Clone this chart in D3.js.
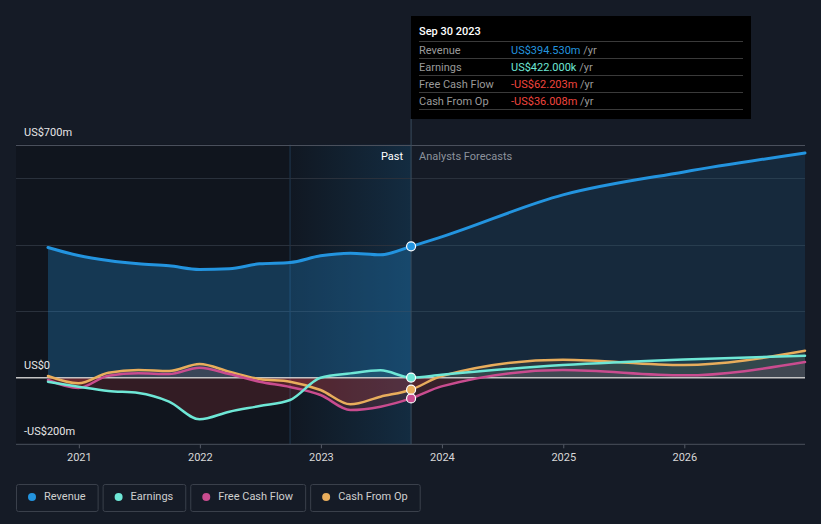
<!DOCTYPE html>
<html>
<head>
<meta charset="utf-8">
<script src="https://cdn.jsdelivr.net/npm/d3@7/dist/d3.min.js"></script>
<style>
  html, body { margin: 0; padding: 0; background: #151b26; }
  svg { display: block; font-family: Roboto, "Noto Sans", sans-serif; }
</style>
</head>
<body>
<svg id="chart" width="821" height="524"></svg>
<script>
// ---------- DATA ----------
const pastDates = ["2020-09-30","2020-12-31","2021-03-31","2021-06-30","2021-09-30","2021-12-31",
  "2022-03-31","2022-06-30","2022-09-30","2022-12-31","2023-03-31","2023-06-30","2023-09-30"];
const forecastDates = ["2023-09-30","2023-12-31","2024-12-31","2025-12-31","2026-12-31"];

const revenuePast = [391, 367, 352, 342, 336, 325, 327, 342, 346, 366, 374, 369, 394.53];
const earningsPast = [-12, -27, -40, -46, -72, -125, -102, -85, -67, 0, 13, 22, 0.422];
const fcfPast = [-7, -31, 6, 13, 11, 30, 11, -12, -28, -52, -97, -87, -62.203];
const cfoPast = [5, -17, 15, 23, 20, 41, 18, -4, -12, -37, -80, -57, -36.008];

const revenueForecast = [394.53, 423, 549, 618, 675];
const earningsForecast = [0.422, 9, 38, 55, 66];
const fcfForecast = [-62.203, -26, 23, 7, 47];
const cfoForecast = [-36.008, 5, 54, 38, 81];

const yTicks = [-200, 0, 200, 400, 600, 700];
const yLabels = [{v: 700, t: "US$700m"}, {v: 0, t: "US$0"}, {v: -200, t: "-US$200m"}];
const xTickYears = [2021, 2022, 2023, 2024, 2025, 2026];

const seriesNames = ["Revenue", "Earnings", "Free Cash Flow", "Cash From Op"];
const seriesColors = ["#2394df", "#6ee7d6", "#c94c8f", "#e8ad5c"];

const tooltipDate = "Sep 30 2023";
const tooltipValues = ["US$394.530m", "US$422.000k", "-US$62.203m", "-US$36.008m"];
const tooltipValueColors = ["#2394df", "#6ee7d6", "#f0453e", "#f0453e"];

// ---------- SETUP ----------
const parse = d3.timeParse("%Y-%m-%d");
const svg = d3.select("#chart");
const W = 821, H = 524;
const plotLeft = 16, plotRight = 805;

const x = d3.scaleTime()
  .domain([parse("2020-09-30"), parse("2026-12-31")])
  .range([48, 805]);
const y = d3.scaleLinear().domain([-200, 700]).range([444.3, 144.6]);

const nowDate = parse("2023-09-30");
const bandStart = parse("2022-09-30");
const xNow = x(nowDate);

const mk = (dates, vals) => dates.map((d, i) => ({date: parse(d), v: vals[i]}));
const series = [
  {past: mk(pastDates, revenuePast), fc: mk(forecastDates, revenueForecast)},
  {past: mk(pastDates, earningsPast), fc: mk(forecastDates, earningsForecast)},
  {past: mk(pastDates, fcfPast), fc: mk(forecastDates, fcfForecast)},
  {past: mk(pastDates, cfoPast), fc: mk(forecastDates, cfoForecast)}
];

const defs = svg.append("defs");
const grad = defs.append("linearGradient").attr("id", "bandGrad")
  .attr("x1", "0").attr("x2", "1").attr("y1", "0").attr("y2", "0");
grad.append("stop").attr("offset", "0").attr("stop-color", "#2394df").attr("stop-opacity", 0.02);
grad.append("stop").attr("offset", "1").attr("stop-color", "#2394df").attr("stop-opacity", 0.18);

defs.append("clipPath").attr("id", "clipPos").append("rect")
  .attr("x", 0).attr("y", 0).attr("width", W).attr("height", y(0));
defs.append("clipPath").attr("id", "clipNeg").append("rect")
  .attr("x", 0).attr("y", y(0)).attr("width", W).attr("height", H - y(0));

// past dark region
svg.append("rect").attr("x", plotLeft).attr("y", y(700))
  .attr("width", xNow - plotLeft).attr("height", y(-200) - y(700))
  .attr("fill", "#000").attr("opacity", 0.2);
// band last year
svg.append("rect").attr("x", x(bandStart)).attr("y", y(700))
  .attr("width", xNow - x(bandStart)).attr("height", y(-200) - y(700))
  .attr("fill", "url(#bandGrad)");
svg.append("line").attr("x1", x(bandStart)).attr("x2", x(bandStart))
  .attr("y1", y(700)).attr("y2", y(-200))
  .attr("stroke", "#1f3a52").attr("stroke-width", 1);

// gridlines
svg.append("g").selectAll("line").data(yTicks.filter(v => v !== 0 && v !== -200)).join("line")
  .attr("x1", plotLeft).attr("x2", plotRight)
  .attr("y1", d => Math.round(y(d)) + 0.5).attr("y2", d => Math.round(y(d)) + 0.5)
  .attr("stroke", d => d === 700 ? "#4a505c" : "#2a313c").attr("stroke-width", 1);

const curve = d3.curveMonotoneX;

// revenue area
const revArea = d3.area().x(d => x(d.date)).y0(y(0)).y1(d => y(d.v)).curve(curve);
svg.append("path").datum(series[0].past).attr("d", revArea)
  .attr("fill", "#2394df").attr("opacity", 0.28);
svg.append("path").datum(series[0].fc).attr("d", revArea)
  .attr("fill", "#2394df").attr("opacity", 0.12);

// small series areas
for (let i = 1; i < 4; i++) {
  const all = series[i].past.concat(series[i].fc.slice(1));
  const ar = d3.area().x(d => x(d.date)).y0(y(0)).y1(d => y(d.v)).curve(curve);
  svg.append("path").datum(all).attr("d", ar).attr("clip-path", "url(#clipPos)")
    .attr("fill", seriesColors[i]).attr("opacity", 0.1);
  svg.append("path").datum(all).attr("d", ar).attr("clip-path", "url(#clipNeg)")
    .attr("fill", "#e0404a").attr("opacity", 0.17);
}

// zero line
svg.append("line").attr("x1", plotLeft).attr("x2", plotRight)
  .attr("y1", y(0)).attr("y2", y(0))
  .attr("stroke", "#c4c4c4").attr("stroke-width", 1.5);

// bottom axis
const xAxis = d3.axisBottom(x)
  .tickValues(xTickYears.map(yr => new Date(yr, 0, 1)))
  .tickFormat(d3.timeFormat("%Y"))
  .tickSize(4).tickPadding(5);
const gx = svg.append("g").attr("transform", `translate(0,${y(-200)})`).call(xAxis);
gx.select(".domain").remove();
gx.selectAll(".tick line").attr("stroke", "#555b66");
gx.selectAll(".tick text").attr("fill", "#d8d8d8").attr("font-size", 11)
  .attr("font-family", "Roboto, sans-serif");
svg.append("line").attr("x1", plotLeft).attr("x2", plotRight)
  .attr("y1", y(-200)).attr("y2", y(-200)).attr("stroke", "#4a505c").attr("stroke-width", 1);

// now line
svg.append("line").attr("x1", xNow).attr("x2", xNow).attr("y1", 119).attr("y2", y(-200))
  .attr("stroke", "#3a4c5e").attr("stroke-width", 1);

// lines
const line = d3.line().x(d => x(d.date)).y(d => y(d.v)).curve(curve);
for (let i = 3; i >= 0; i--) {
  const all = series[i].past.concat(series[i].fc.slice(1));
  svg.append("path").datum(all).attr("d", line).attr("fill", "none")
    .attr("stroke", seriesColors[i]).attr("stroke-width", i === 0 ? 3 : 2.5)
    .attr("stroke-linecap", "round").attr("stroke-linejoin", "round");
}
// dots at now
for (let i = 0; i < 4; i++) {
  const p = series[i].past[series[i].past.length - 1];
  svg.append("circle").attr("cx", x(p.date)).attr("cy", y(p.v)).attr("r", 4.5)
    .attr("fill", seriesColors[i]).attr("stroke", "#fff").attr("stroke-width", 1.2);
}

// y labels
svg.append("g").selectAll("text").data(yLabels).join("text")
  .attr("x", 24).attr("y", d => y(d.v) - 9)
  .attr("fill", "#e6e6e6").attr("font-size", 11).text(d => d.t);

// Past / forecasts labels
svg.append("text").attr("x", xNow - 8).attr("y", 160).attr("text-anchor", "end")
  .attr("fill", "#ffffff").attr("font-size", 11).text("Past");
svg.append("text").attr("x", xNow + 8).attr("y", 160)
  .attr("fill", "#8c929c").attr("font-size", 11).text("Analysts Forecasts");

// tooltip
const tt = svg.append("g");
tt.append("rect").attr("x", 411).attr("y", 16).attr("width", 340).attr("height", 103).attr("fill", "#000");
tt.append("text").attr("x", 419).attr("y", 35).attr("fill", "#fff").attr("font-size", 11)
  .attr("font-weight", 500).text(tooltipDate);
[41.5, 58.5, 75.5, 92.5, 109.5].forEach(ly => {
  tt.append("line").attr("x1", 419).attr("x2", 743).attr("y1", ly).attr("y2", ly)
    .attr("stroke", "#3a3a3a").attr("stroke-width", 1);
});
const rowY = [53.5, 70.5, 88, 105];
seriesNames.forEach((n, i) => {
  tt.append("text").attr("x", 419).attr("y", rowY[i]).attr("fill", "#9a9a9a")
    .attr("font-size", 11).text(n);
  const t = tt.append("text").attr("x", 511).attr("y", rowY[i]).attr("font-size", 11);
  t.append("tspan").attr("fill", tooltipValueColors[i]).text(tooltipValues[i]);
  t.append("tspan").attr("fill", "#9a9a9a").text(" /yr");
});

// legend
let lx = 16;
seriesNames.forEach((n, i) => {
  const g = svg.append("g");
  const txt = g.append("text").attr("x", lx + 28).attr("y", 500).attr("fill", "#cfcfcf")
    .attr("font-size", 11).text(n);
  const tw = txt.node().getComputedTextLength();
  const bw = 28 + tw + 12;
  g.insert("rect", "text").attr("x", lx + 0.5).attr("y", 484.5).attr("width", bw).attr("height", 27)
    .attr("rx", 2).attr("fill", "none").attr("stroke", "#3a404b").attr("stroke-width", 1);
  g.append("circle").attr("cx", lx + 16).attr("cy", 497).attr("r", 4).attr("fill", seriesColors[i]);
  lx += bw + 5;
});
</script>
</body>
</html>
